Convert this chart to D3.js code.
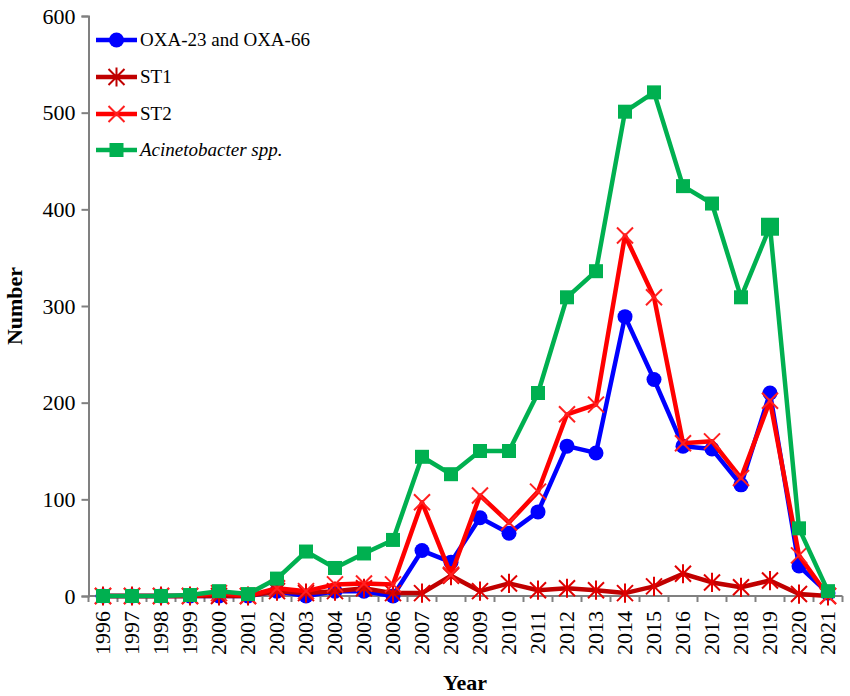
<!DOCTYPE html>
<html><head><meta charset="utf-8">
<script src="https://cdn.jsdelivr.net/npm/d3@7"></script>
<style>body{margin:0;background:#fff;}svg{display:block;}</style>
</head><body><svg id="c" width="850" height="696"></svg>
<script>
const years = ["1996","1997","1998","1999","2000","2001","2002","2003","2004","2005","2006","2007","2008","2009","2010","2011","2012","2013","2014","2015","2016","2017","2018","2019","2020","2021"];
const oxa = [0,0,0,0,0,0,5,0,5,5,0,47,35,81,65,87,155,148,289,224,155,152,115,210,31,3];
const st1 = [0,0,0,0,0,0,5,3,5,8,3,3,21,5,13,6,8,6,3,10,23,14,9,16,2,0];
const st2 = [0,0,0,0,3,0,8,5,12,13,12,97,22,104,76,108,188,198,373,309,158,160,122,202,42,0];
const acin = [0,0,0,1,5,2,18,46,29,44,58,144,126,150,150,210,309,336,501,521,424,406,309,382,70,5];
const yTicks = [0,100,200,300,400,500,600];
const seriesNames = ["OXA-23 and OXA-66","ST1","ST2","Acinetobacter spp."];

const series = [
  {name:seriesNames[0], values:oxa, color:"#0000FF", marker:"circle"},
  {name:seriesNames[1], values:st1, color:"#C00000", marker:"star", mcolor:"#E00000"},
  {name:seriesNames[2], values:st2, color:"#FF0000", marker:"x", mcolor:"#FF2020"},
  {name:seriesNames[3], values:acin, color:"#00B050", marker:"square", italic:true}
];

const FF = '"Liberation Serif"';
const svg = d3.select("#c");
const x = d3.scaleBand().domain(years).range([88.5, 842.5]);
const y = d3.scaleLinear().domain([0,600]).range([596, 16]);
const cx = d => x(d) + x.bandwidth()/2;

// Y axis
const yAxis = svg.append("g").attr("transform","translate(88.5,0)")
  .call(d3.axisLeft(y).tickValues(yTicks).tickSize(7).tickPadding(6));
yAxis.attr("font-family",null).attr("font-size",null);
yAxis.select(".domain").attr("stroke","#808080").attr("stroke-width",2);
yAxis.selectAll(".tick line").attr("stroke","#808080").attr("stroke-width",2);
yAxis.selectAll(".tick text").style("font-family",FF).style("font-size","22px").attr("fill","#000");

// X axis
const xg = svg.append("g").attr("transform","translate(0,596)");
xg.append("line").attr("x1",x.range()[0]).attr("x2",x.range()[1]).attr("stroke","#808080").attr("stroke-width",2);
const bounds = years.map(d=>x(d)).concat([x.range()[1]]);
xg.selectAll("line.t").data(bounds).join("line").attr("class","t")
  .attr("x1",d=>d).attr("x2",d=>d).attr("y1",0).attr("y2",6).attr("stroke","#808080").attr("stroke-width",2);
xg.selectAll("text").data(years).join("text")
  .attr("transform",d=>`translate(${cx(d)+7},15) rotate(-90)`)
  .attr("text-anchor","end").style("font-family",FF).style("font-size","22px").text(d=>d);

// axis titles
svg.append("text").attr("x",465).attr("y",690).attr("text-anchor","middle")
  .style("font-family",FF).style("font-weight","bold").style("font-size","22px").text("Year");
svg.append("text").attr("transform","translate(22,306) rotate(-90)").attr("text-anchor","middle")
  .style("font-family",FF).style("font-weight","bold").style("font-size","22px").text("Number");

function drawMarker(g, type, color, px, py, big){
  if(type==="circle"){
    g.append("circle").attr("cx",px).attr("cy",py).attr("r",7.5).attr("fill",color);
  } else if(type==="square"){
    const s = big?18:14;
    g.append("rect").attr("x",px-s/2).attr("y",py-s/2).attr("width",s).attr("height",s).attr("fill",color);
  } else if(type==="x"){
    const r=8;
    g.append("path").attr("d",`M${px-r},${py-r}L${px+r},${py+r}M${px-r},${py+r}L${px+r},${py-r}`)
      .attr("stroke",color).attr("stroke-width",2).attr("fill","none");
  } else if(type==="star"){
    const r=8;
    g.append("path").attr("d",`M${px-r},${py-r}L${px+r},${py+r}M${px-r},${py+r}L${px+r},${py-r}M${px},${py-r*1.2}L${px},${py+r*1.2}`)
      .attr("stroke",color).attr("stroke-width",2).attr("fill","none");
  }
}

const line = d3.line().x((d,i)=>cx(years[i])).y(d=>y(d));
series.forEach(s=>{
  const g = svg.append("g");
  g.append("path").datum(s.values).attr("d",line).attr("fill","none")
    .attr("stroke",s.color).attr("stroke-width",4.5).attr("stroke-linejoin","round");
  s.values.forEach((v,i)=>drawMarker(g, s.marker, s.mcolor||s.color, cx(years[i]), y(v), s.marker==="square" && years[i]==="2019"));
});

// legend
const legY = [40,77,114,150];
series.forEach((s,i)=>{
  const g = svg.append("g");
  g.append("line").attr("x1",96).attr("x2",137).attr("y1",legY[i]).attr("y2",legY[i])
    .attr("stroke",s.color).attr("stroke-width",4.5);
  drawMarker(g, s.marker, s.marker==="star"?s.color:(s.mcolor||s.color), 116.5, legY[i], false);
  g.append("text").attr("x",140).attr("y",legY[i]+6).style("font-family",FF).style("font-size","19px")
    .style("font-style",s.italic?"italic":"normal").text(s.name);
});
</script></body></html>
